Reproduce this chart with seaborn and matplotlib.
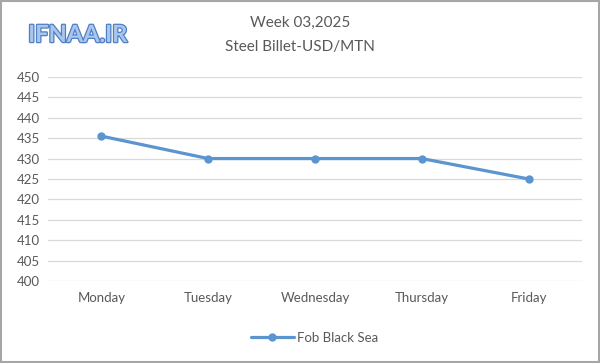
import matplotlib
matplotlib.use("Agg")
import matplotlib.pyplot as plt
import matplotlib.patheffects as pe
import seaborn as sns
import pandas as pd

days = ["Monday", "Tuesday", "Wednesday", "Thursday", "Friday"]
values = [435.5, 430, 430, 430, 425]
series_name = "Fob Black Sea"
title_lines = ["Week 03,2025", "Steel Billet-USD/MTN"]
yticks = list(range(400, 451, 5))

sns.set_theme(style="white")
plt.rcParams['font.family'] = ['Lato', 'DejaVu Sans']

df = pd.DataFrame({"day": days, "value": values, "series": series_name})

fig = plt.figure(figsize=(6.0, 3.63), dpi=100)
ax = fig.add_axes([0.08, 0.226, 0.89, 0.562])

color = "#5B95CF"
sns.lineplot(data=df, x="day", y="value", hue="series", palette=[color],
             marker="o", markersize=6, linewidth=2.3, markeredgewidth=0,
             sort=False, ax=ax, legend=True)

ax.set_ylim(400, 450)
ax.set_xlim(-0.5, 4.5)
ax.set_yticks(yticks)
ax.set_xlabel("")
ax.set_ylabel("")
ax.grid(axis="y", color="#D9D9D9", linewidth=0.9)
ax.set_axisbelow(True)
for s in ax.spines.values():
    s.set_visible(False)
ax.tick_params(axis="both", length=0, labelsize=9.5, colors="#595959")
ax.tick_params(axis="x", pad=8)
ax.tick_params(axis="y", pad=6)

leg = ax.legend(loc="upper center", bbox_to_anchor=(0.5, -0.19), frameon=False,
                fontsize=9.5, handlelength=3.2, handletextpad=0.3)
for t in leg.get_texts():
    t.set_color("#595959")

fig.text(0.5, 0.937, title_lines[0], ha="center", va="center", fontsize=11, color="#595959")
fig.text(0.5, 0.871, title_lines[1], ha="center", va="center", fontsize=11, color="#595959")

wm = fig.text(0.047, 0.905, "IFNAA.IR", ha="left", va="center", fontsize=17,
              color="#A9C6EC", fontweight="bold")
wm.set_path_effects([pe.withStroke(linewidth=1.8, foreground="#4F7FC4")])

border = plt.Rectangle((0.002, 0.003), 0.996, 0.994, transform=fig.transFigure,
                       fill=False, edgecolor="#A6A6A6", linewidth=1.5)
fig.add_artist(border)

fig.savefig("out.png", dpi=100)
